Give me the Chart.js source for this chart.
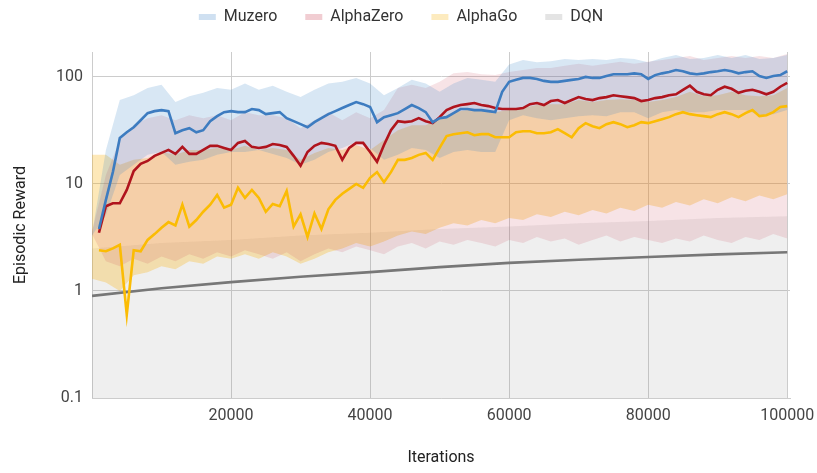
<!DOCTYPE html>
<html>
<head>
<meta charset="utf-8">
<script src="https://cdn.jsdelivr.net/npm/chart.js@4.4.1/dist/chart.umd.min.js"></script>
<style>
  body { margin: 0; background: #fff; }
  #wrap { width: 817px; height: 473px; }
</style>
</head>
<body>
<div id="wrap"><canvas id="rewardChart"></canvas></div>
<script>
var xTicks = [20000, 40000, 60000, 80000, 100000];
var yTicks = [0.1, 1, 10, 100];

// smoothed curves: one value every 1000 iterations, 1000 .. 100000
var lineIters = Array.from({ length: 100 }, function (_, i) { return (i + 1) * 1000; });

var muzero = [
  3.8, 7.1, 12.9, 26.9, 30.4, 33.9, 39.4, 45.9, 47.9, 49.0,
  47.9, 29.8, 31.8, 33.2, 30.4, 31.8, 38.6, 43.0, 46.9, 47.9,
  46.9, 46.9, 50.1, 49.0, 44.9, 45.9, 46.9, 41.2, 38.6, 36.2,
  33.9, 37.8, 41.2, 44.9, 47.9, 51.2, 54.6, 58.3, 55.7, 52.3,
  37.8, 42.1, 43.9, 45.9, 50.1, 54.6, 51.2, 46.9, 37.8, 41.2,
  42.1, 45.9, 50.1, 50.1, 49.0, 49.0, 47.9, 46.9, 72.7, 90.0,
  93.9, 97.9, 97.9, 95.8, 91.8, 90.0, 90.0, 91.8, 93.9, 95.8,
  100, 97.9, 97.9, 102, 106, 106, 106, 108, 106, 95.8,
  104, 108, 111, 116, 113, 108, 106, 108, 111, 113,
  116, 113, 108, 111, 113, 102, 97.9, 102, 104, 113
];

var alphaZero = [
  3.5, 6.2, 6.6, 6.6, 8.8, 13.2, 15.4, 16.4, 18.3, 19.5,
  20.8, 19.1, 22.2, 19.1, 19.1, 20.8, 22.7, 22.7, 21.7, 20.8,
  24.2, 25.2, 22.2, 21.7, 22.2, 23.6, 23.1, 22.2, 18.3, 14.8,
  19.9, 22.7, 24.2, 23.6, 22.7, 16.8, 21.7, 24.2, 24.2, 19.9,
  16.1, 23.1, 31.8, 38.6, 37.8, 38.6, 41.2, 38.6, 37.0, 42.1,
  49.0, 52.3, 54.6, 55.7, 57.0, 54.6, 53.4, 51.2, 50.1, 50.1,
  50.1, 51.2, 55.7, 57.0, 54.6, 59.5, 60.8, 57.0, 60.8, 64.8,
  62.1, 60.8, 63.4, 64.8, 67.5, 66.1, 64.8, 63.4, 59.5, 60.8,
  63.4, 64.8, 67.5, 68.9, 75.8, 82.9, 72.7, 68.9, 67.5, 75.8,
  81.0, 77.5, 71.1, 74.2, 75.8, 72.7, 68.9, 72.7, 81.0, 88.0
];

var alphaGo = [
  2.4, 2.35, 2.5, 2.7, 0.6, 2.4, 2.35, 3.0, 3.4, 3.9,
  4.4, 4.1, 6.4, 4.0, 4.6, 5.5, 6.4, 7.9, 6.0, 6.4,
  9.2, 7.4, 8.8, 7.4, 5.5, 6.5, 6.2, 8.6, 4.0, 5.2,
  3.2, 5.3, 3.8, 5.8, 7.1, 8.1, 9.0, 10.0, 9.2, 11.4,
  12.9, 10.4, 12.9, 16.8, 16.8, 17.5, 18.7, 19.5, 16.8, 21.7,
  28.0, 29.2, 29.8, 30.4, 28.5, 29.2, 29.2, 27.3, 27.3, 27.3,
  30.4, 31.1, 31.1, 29.8, 29.8, 30.4, 32.5, 29.8, 27.3, 33.2,
  37.0, 34.6, 33.2, 36.2, 37.8, 36.2, 33.9, 35.4, 37.8, 37.0,
  38.6, 40.3, 42.1, 44.9, 46.9, 44.9, 43.9, 43.0, 42.1, 44.9,
  46.9, 44.9, 42.1, 45.9, 49.0, 43.0, 43.9, 46.9, 52.3, 53.4
];

var dqnIters = [0, 10000, 20000, 30000, 40000, 50000, 60000, 70000, 80000, 90000, 100000];
var dqn = [0.9, 1.06, 1.21, 1.36, 1.5, 1.67, 1.83, 1.96, 2.08, 2.2, 2.3];
var dqnHi = [2.5, 2.8, 3.0, 3.3, 3.5, 3.8, 4.0, 4.3, 4.5, 4.8, 5.0];

// spread of the runs, one value every 2000 iterations, 0 .. 100000
var bandIters = Array.from({ length: 51 }, function (_, i) { return i * 2000; });

var muzeroHi = [
  3.4, 20.8, 60.8, 67.5, 79, 84.6, 58.3, 66, 71, 79,
  75.8, 86.7, 75.8, 82.9, 72.7, 64.8, 75.8, 86.7, 90, 97.9,
  86.7, 67.5, 79, 93.9, 86.7, 72.7, 86.7, 97.9, 93.9, 90,
  131, 144, 137, 140, 147, 144, 147, 144, 150, 147,
  137, 150, 160, 147, 150, 160, 150, 160, 147, 150, 160
];
var muzeroLo = [
  3.3, 5.1, 12.1, 15.1, 18.7, 19.9, 15.1, 16.1, 16.8, 18.7,
  19.9, 19.9, 20.8, 19.1, 17.5, 15.1, 16.8, 19.9, 21.7, 24.7,
  21.7, 16.8, 18.7, 21.7, 20.8, 17.5, 19.9, 20.8, 19.9, 19.9,
  39.4, 43.9, 41.2, 39.4, 41.2, 43, 43.9, 43, 46.9, 46.9,
  41.2, 46.9, 49, 46.9, 46.9, 49, 49, 49, 43.9, 44.9, 49
];
var alphaZeroHi = [
  3.6, 12.1, 25.8, 35.4, 41.2, 43.9, 39.4, 43.9, 41.2, 43.9,
  39.4, 46.9, 43.9, 43.9, 41.2, 33.2, 39.4, 46.9, 39.4, 46.9,
  41.2, 49, 79, 84.6, 79, 90, 108, 111, 106, 104,
  111, 116, 121, 121, 127, 133, 127, 133, 139, 133,
  139, 144, 150, 157, 144, 150, 157, 150, 157, 150, 164
];
var alphaZeroLo = [
  3.4, 1.9, 1.7, 2.0, 1.8, 2.1, 1.9, 2.2, 2.0, 2.3,
  2.1, 2.4, 2.2, 2.0, 2.3, 1.9, 2.2, 2.5, 2.3, 2.6,
  2.4, 2.2, 2.6, 2.8, 2.5, 2.9, 2.7, 3.0, 2.8, 2.6,
  3.0, 2.8, 3.2, 2.9, 3.1, 2.7, 3.0, 3.3, 2.9, 3.2,
  3.0, 2.8, 3.1, 2.9, 3.3, 3.0, 2.8, 3.2, 3.0, 3.4, 3.1
];
var alphaGoHi = [
  18.7, 18.7, 15.1, 16.8, 17.5, 19.9, 18.7, 20.8, 20.8, 21.7,
  20.8, 22.7, 20.8, 21.7, 20.8, 16.8, 19.5, 21.7, 20.8, 23.1,
  20.8, 25.8, 31.8, 35.4, 35.4, 41.2, 46.9, 49, 49, 46.9,
  49, 51.2, 54.6, 55.7, 55.7, 60.8, 58.3, 60.8, 62, 60.8,
  58.3, 60.8, 64.8, 72.7, 66, 67.5, 72.7, 67.5, 66, 67.5, 79
];
var alphaGoLo = [
  1.3, 1.2, 1.0, 1.4, 1.5, 1.7, 1.6, 1.9, 1.8, 2.1,
  2.0, 2.2, 2.0, 2.3, 2.1, 1.8, 2.0, 2.3, 2.5, 2.8,
  2.6, 2.9, 3.3, 3.6, 3.4, 3.9, 4.3, 4.1, 4.6, 4.3,
  4.8, 4.6, 5.2, 4.9, 5.5, 5.1, 5.7, 5.3, 6.0, 5.6,
  6.4, 6.0, 6.8, 6.3, 7.2, 6.6, 7.5, 6.9, 7.8, 7.2, 8.0
];

function pts(xs, ys) {
  return xs.map(function (x, i) { return { x: x, y: ys[i] }; });
}

function curve(label, xs, ys, color, legendColor) {
  return {
    label: label, data: pts(xs, ys), borderColor: color, backgroundColor: color,
    borderWidth: 2.6, pointRadius: 0, tension: 0, fill: false, order: 0,
    legendColor: legendColor
  };
}

function band(xs, ys, color, fill, order) {
  return {
    label: '', data: pts(xs, ys), borderWidth: 0, pointRadius: 0, tension: 0,
    backgroundColor: color, fill: fill, order: order
  };
}

var datasets = [
  curve('Muzero', lineIters, muzero, '#3d7cc0', '#cfe0f1'),
  curve('AlphaZero', lineIters, alphaZero, '#b0141d', '#f1cdd2'),
  curve('AlphaGo', lineIters, alphaGo, '#fbbc04', '#fdebbf'),
  curve('DQN', dqnIters, dqn, '#777777', '#e4e4e4'),
  band(bandIters, muzeroHi, 'rgba(61,133,198,0.2)', '+1', 2),
  band(bandIters, muzeroLo, 'transparent', false, 2),
  band(bandIters, alphaZeroHi, 'rgba(190,40,60,0.13)', '+1', 3),
  band(bandIters, alphaZeroLo, 'transparent', false, 3),
  band(bandIters, alphaGoHi, 'rgba(247,180,20,0.3)', '+1', 4),
  band(bandIters, alphaGoLo, 'transparent', false, 4),
  band(dqnIters, dqnHi, 'rgba(150,150,150,0.15)', 'start', 5)
];

var font = 'Roboto, "Liberation Sans", Arial, sans-serif';

// legend sits in a fixed 71px strip, like the original
var legendStrip = {
  id: 'legendStrip',
  afterInit: function (chart) {
    var fit = chart.legend.fit;
    chart.legend.fit = function () {
      fit.call(this);
      this.height = 71;
    };
  }
};

var ctx = document.getElementById('rewardChart').getContext('2d');
var rewardChart = new Chart(ctx, {
  type: 'line',
  data: { datasets: datasets },
  plugins: [legendStrip],
  options: {
    responsive: true,
    maintainAspectRatio: false,
    animation: false,
    events: [],
    layout: { padding: { top: -19, right: 15, left: 0, bottom: 0 } },
    plugins: {
      tooltip: { enabled: false },
      legend: {
        position: 'top',
        labels: {
          font: { family: font, size: 16 },
          color: '#333',
          boxWidth: 17,
          boxHeight: 6,
          padding: 28,
          generateLabels: function (chart) {
            return chart.data.datasets
              .map(function (ds, i) {
                return {
                  text: ds.label, fillStyle: ds.legendColor, strokeStyle: ds.legendColor,
                  lineWidth: 0, hidden: false, datasetIndex: i, fontColor: '#333'
                };
              })
              .filter(function (item, i) { return !!chart.data.datasets[i].legendColor; });
          }
        }
      }
    },
    scales: {
      x: {
        type: 'linear',
        min: 0,
        max: 100400,
        afterBuildTicks: function (scale) {
          scale.ticks = xTicks.map(function (v) { return { value: v }; });
        },
        afterFit: function (scale) {
          scale.height = 75;
          scale.paddingRight = 27;
        },
        grid: { color: '#cccccc', drawTicks: false },
        border: { color: '#cccccc' },
        ticks: {
          font: { family: font, size: 16 }, color: '#444', padding: 8, maxRotation: 0,
          callback: function (v) { return String(v); }
        },
        title: {
          display: true, text: 'Iterations', color: '#222',
          font: { family: font, size: 16 }, padding: { top: 0, bottom: 5 }
        }
      },
      y: {
        type: 'logarithmic',
        min: 0.1,
        max: 171,
        afterBuildTicks: function (scale) {
          scale.ticks = yTicks.map(function (v) { return { value: v }; });
        },
        afterFit: function (scale) { scale.width = 92; },
        grid: { color: '#cccccc', drawTicks: false },
        border: { color: '#cccccc' },
        ticks: {
          font: { family: font, size: 16 }, color: '#444', padding: 9,
          callback: function (v) { return String(v); }
        },
        title: {
          display: true, text: 'Episodic Reward', color: '#222',
          font: { family: font, size: 16 }, padding: { top: 11, bottom: 0 }
        }
      }
    }
  }
});
</script>
</body>
</html>
